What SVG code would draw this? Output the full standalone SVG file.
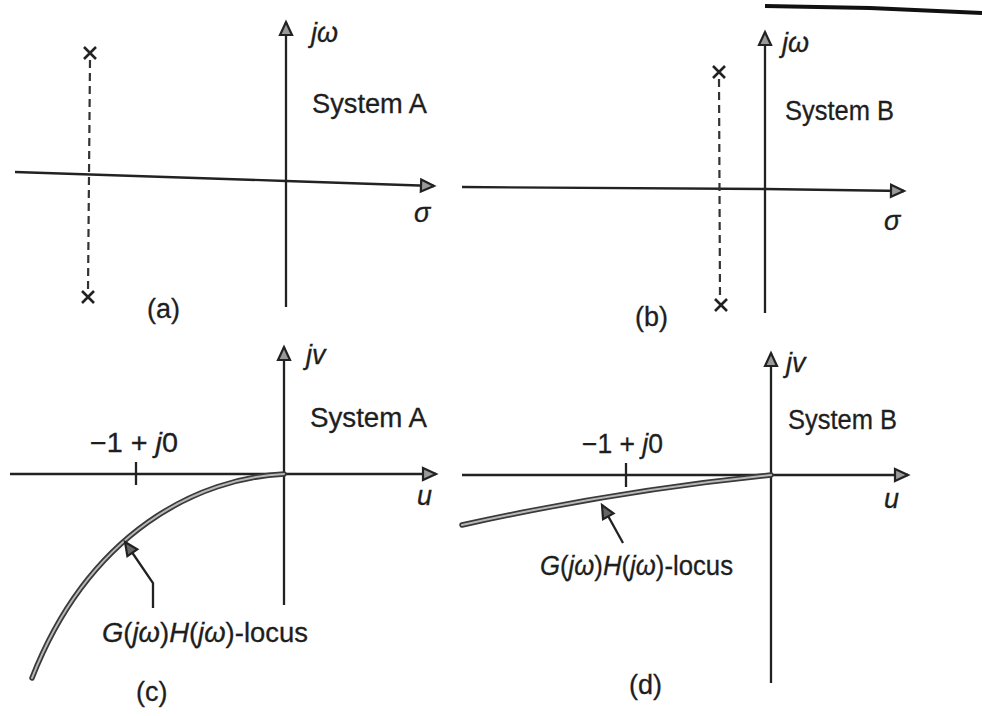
<svg xmlns="http://www.w3.org/2000/svg" width="982" height="716" viewBox="0 0 982 716">
<defs>
<marker id="ah" markerWidth="18" markerHeight="18" refX="15" refY="8" orient="auto" markerUnits="userSpaceOnUse">
<path d="M2,2 L15,8 L2,14 Z" fill="#9a9a9a" stroke="#222" stroke-width="2.2" stroke-linejoin="miter"/>
</marker>
<marker id="ph" markerWidth="18" markerHeight="18" refX="15" refY="8.5" orient="auto" markerUnits="userSpaceOnUse">
<path d="M2,2.5 L15,8.5 L2,14.5 Z" fill="#666" stroke="#222" stroke-width="2.2"/>
</marker>
<style>
.ax{stroke:#222;stroke-width:2.3;fill:none}
.dash{stroke:#333;stroke-width:2.2;stroke-dasharray:8 5;fill:none}
.x{stroke:#222;stroke-width:2.6;fill:none}
.lo1{stroke:#3a3a3a;stroke-width:5.5;fill:none;stroke-linecap:round}
.lo2{stroke:#b8b8b8;stroke-width:2;fill:none;stroke-linecap:round}
.ptr{stroke:#222;stroke-width:2.3;fill:none}
text{font-family:"Liberation Sans",Arial,sans-serif;fill:#1e1e1e;font-size:27px;stroke:#1e1e1e;stroke-width:0.3}
.it{font-style:italic}
</style>
</defs>
<rect width="982" height="716" fill="#ffffff"/>
<path d="M765,6 L870,8 L982,13" stroke="#111" stroke-width="4" fill="none"/>

<g id="connectors">
<!-- panel a -->
<path class="ax" d="M15,172 L286,181 L434,186" marker-end="url(#ah)"/>
<path class="ax" d="M286,307 L286,22" marker-end="url(#ah)"/>
<path class="dash" d="M90,60 L88,291"/>
<!-- panel b -->
<path class="ax" d="M462,187 L765,189 L904,191" marker-end="url(#ah)"/>
<path class="ax" d="M765,313 L765,32" marker-end="url(#ah)"/>
<path class="dash" d="M719,79 L720,299"/>
<!-- panel c -->
<path class="ax" d="M10,474 L436,474" marker-end="url(#ah)"/>
<path class="ax" d="M284,605 L284,347" marker-end="url(#ah)"/>
<path class="ax" d="M136,462 L136,485"/>
<path class="lo1" d="M284,474 C200,478 90,530 32,678"/>
<path class="lo2" d="M284,474 C200,478 90,530 32,678"/>
<path class="ptr" d="M153,608 L153,583 L125,542" marker-end="url(#ph)"/>
<!-- panel d -->
<path class="ax" d="M462,475 L908,475" marker-end="url(#ah)"/>
<path class="ax" d="M771,683 L771,353" marker-end="url(#ah)"/>
<path class="ax" d="M626,463 L626,487"/>
<path class="lo1" d="M462,525 Q620,490 771,475"/>
<path class="lo2" d="M462,525 Q620,490 771,475"/>
<path class="ptr" d="M623,543 L602,505" marker-end="url(#ph)"/>
</g>

<g id="panel-a">
<path class="x" d="M84,47 L96,59 M96,47 L84,59"/>
<path class="x" d="M82,291 L94,303 M94,291 L82,303"/>
<text x="311" y="42" class="it">jω</text>
<text x="312" y="113" textLength="115" lengthAdjust="spacingAndGlyphs">System A</text>
<text x="414" y="222" class="it">σ</text>
<text x="147" y="318">(a)</text>
</g>

<g id="panel-b">
<path class="x" d="M713,66 L725,78 M725,66 L713,78"/>
<path class="x" d="M715,299 L727,311 M727,299 L715,311"/>
<text x="782" y="52" class="it">jω</text>
<text x="785" y="120" textLength="109" lengthAdjust="spacingAndGlyphs">System B</text>
<text x="884" y="230" class="it">σ</text>
<text x="635" y="326">(b)</text>
</g>

<g id="panel-c">
<text x="306" y="364" class="it">jv</text>
<text x="310" y="427" textLength="117" lengthAdjust="spacingAndGlyphs">System A</text>
<text x="90" y="452" textLength="88" lengthAdjust="spacingAndGlyphs">−1 + <tspan class="it">j</tspan>0</text>
<text x="417" y="505" class="it">u</text>
<text x="102" y="642" textLength="206" lengthAdjust="spacingAndGlyphs"><tspan class="it">G</tspan>(<tspan class="it">jω</tspan>)<tspan class="it">H</tspan>(<tspan class="it">jω</tspan>)-locus</text>
<text x="136" y="701">(c)</text>
</g>

<g id="panel-d">
<text x="786" y="372" class="it">jv</text>
<text x="788" y="429" textLength="109" lengthAdjust="spacingAndGlyphs">System B</text>
<text x="582" y="453" textLength="81" lengthAdjust="spacingAndGlyphs">−1 + <tspan class="it">j</tspan>0</text>
<text x="884" y="508" class="it">u</text>
<text x="540" y="575" textLength="193" lengthAdjust="spacingAndGlyphs"><tspan class="it">G</tspan>(<tspan class="it">jω</tspan>)<tspan class="it">H</tspan>(<tspan class="it">jω</tspan>)-locus</text>
<text x="629" y="694">(d)</text>
</g>
</svg>
